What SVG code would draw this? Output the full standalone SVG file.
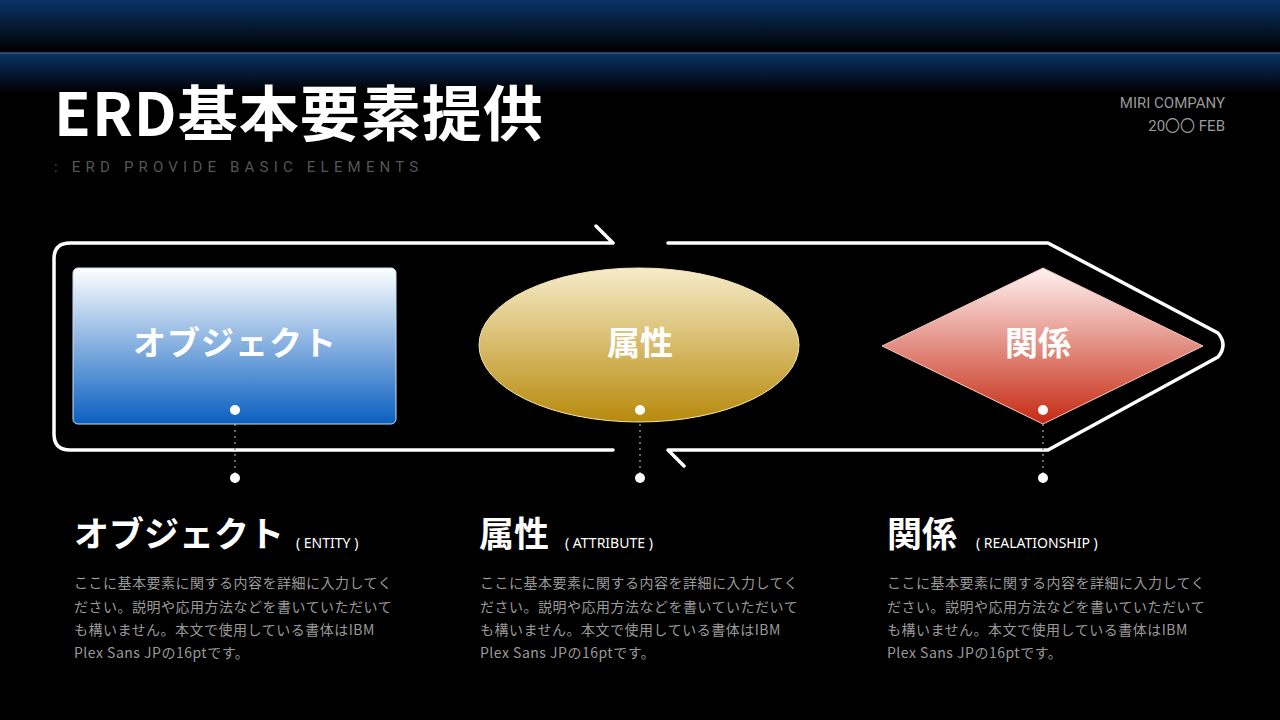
<svg xmlns="http://www.w3.org/2000/svg" width="1280" height="720" viewBox="0 0 1280 720">
<defs>
<linearGradient id="band" x1="0" y1="0" x2="0" y2="1"><stop offset="0" stop-color="#0a3366"/><stop offset="1" stop-color="#000"/></linearGradient>
<linearGradient id="gb" x1="0" y1="0" x2="0" y2="1"><stop offset="0" stop-color="#ffffff"/><stop offset="1" stop-color="#0a5fc0"/></linearGradient>
<linearGradient id="gy" x1="0" y1="0" x2="0" y2="1"><stop offset="0" stop-color="#f6ecc9"/><stop offset="1" stop-color="#b88a0c"/></linearGradient>
<linearGradient id="gr" x1="0" y1="0" x2="0" y2="1"><stop offset="0" stop-color="#fff2f2"/><stop offset="1" stop-color="#c62a12"/></linearGradient>
<style>
.jp{font-family:"Noto Sans CJK JP","Noto Sans",sans-serif}
.w{fill:#fff}
.ln{fill:none;stroke:#fff;stroke-width:3.5;stroke-linejoin:round;stroke-linecap:round}
.dot{stroke:#888;stroke-width:1.5;stroke-dasharray:2 4}
.body{font-family:"Noto Sans CJK JP","Noto Sans",sans-serif;font-size:14px;fill:#9a9a9a;letter-spacing:0.5px}
.sub{font-family:"Noto Sans",sans-serif;font-size:14px;fill:#fff}
</style>
</defs>
<rect width="1280" height="720" fill="#000"/>
<rect y="0" width="1280" height="52" fill="url(#band)"/>
<rect y="53" width="1280" height="40" fill="url(#band)"/>
<line x1="0" y1="53" x2="1280" y2="53" stroke="#4a7aa0" stroke-width="1"/>
<text x="54" y="136" class="jp w" font-size="60" font-weight="700" letter-spacing="1">ERD基本要素提供</text>
<text x="54" y="172" font-family="Roboto,sans-serif" font-size="15" fill="#555" letter-spacing="5.2">: ERD PROVIDE BASIC ELEMENTS</text>
<text x="1225" y="108" font-family="Roboto,sans-serif" font-size="15" fill="#999" text-anchor="end">MIRI COMPANY</text>
<text x="1225" y="131" font-family="Roboto,'Noto Sans CJK JP',sans-serif" font-size="15" fill="#999" text-anchor="end">20〇〇 FEB</text>
<g id="connectors">
<path class="ln" d="M596,226 L613,243 L70,243 Q54,243 54,259 L54,434 Q54,450 70,450 L613,450"/>
<path class="ln" d="M668,243 L1048,243 L1218,333 Q1228,345 1218,357 L1048,450 L668,450 L684,466"/>
<line class="dot" x1="235" y1="412" x2="235" y2="476"/>
<line class="dot" x1="640" y1="412" x2="640" y2="476"/>
<line class="dot" x1="1043" y1="412" x2="1043" y2="476"/>
</g>
<g id="entity">
<rect x="73" y="268" width="323" height="156" rx="5" fill="url(#gb)" stroke="#cfe0f0" stroke-width="1"/>
<text x="235" y="355" class="jp w" font-size="33" font-weight="700" text-anchor="middle" letter-spacing="1">オブジェクト</text>
<circle cx="235" cy="410" r="5" fill="#fff"/><circle cx="235" cy="478" r="5" fill="#fff"/>
</g>
<g id="attribute">
<ellipse cx="639" cy="345" rx="160" ry="77" fill="url(#gy)" stroke="#f3e6b0" stroke-width="1"/>
<text x="640" y="355" class="jp w" font-size="33" font-weight="700" text-anchor="middle">属性</text>
<circle cx="640" cy="410" r="5" fill="#fff"/><circle cx="640" cy="478" r="5" fill="#fff"/>
</g>
<g id="relationship">
<polygon points="1043,268 1203,346 1043,424 882,346" fill="url(#gr)" stroke="#f4c8c0" stroke-width="1"/>
<text x="1038" y="355" class="jp w" font-size="33" font-weight="700" text-anchor="middle">関係</text>
<circle cx="1043" cy="410" r="5" fill="#fff"/><circle cx="1043" cy="478" r="5" fill="#fff"/>
</g>
<g id="desc1">
<text x="74" y="547" class="jp w" font-size="35" font-weight="700">オブジェクト</text>
<text x="296" y="548" class="sub">( ENTITY )</text>
<text class="body"><tspan x="74" y="588">ここに基本要素に関する内容を詳細に入力してく</tspan><tspan x="74" y="612">ださい。説明や応用方法などを書いていただいて</tspan><tspan x="74" y="635">も構いません。本文で使用している書体はIBM</tspan><tspan x="74" y="658">Plex Sans JPの16ptです。</tspan></text>
</g>
<g id="desc2">
<text x="479" y="547" class="jp w" font-size="35" font-weight="700">属性</text>
<text x="565" y="548" class="sub">( ATTRIBUTE )</text>
<text class="body"><tspan x="480" y="588">ここに基本要素に関する内容を詳細に入力してく</tspan><tspan x="480" y="612">ださい。説明や応用方法などを書いていただいて</tspan><tspan x="480" y="635">も構いません。本文で使用している書体はIBM</tspan><tspan x="480" y="658">Plex Sans JPの16ptです。</tspan></text>
</g>
<g id="desc3">
<text x="887" y="547" class="jp w" font-size="35" font-weight="700">関係</text>
<text x="976" y="548" class="sub">( REALATIONSHIP )</text>
<text class="body"><tspan x="887" y="588">ここに基本要素に関する内容を詳細に入力してく</tspan><tspan x="887" y="612">ださい。説明や応用方法などを書いていただいて</tspan><tspan x="887" y="635">も構いません。本文で使用している書体はIBM</tspan><tspan x="887" y="658">Plex Sans JPの16ptです。</tspan></text>
</g>
</svg>
